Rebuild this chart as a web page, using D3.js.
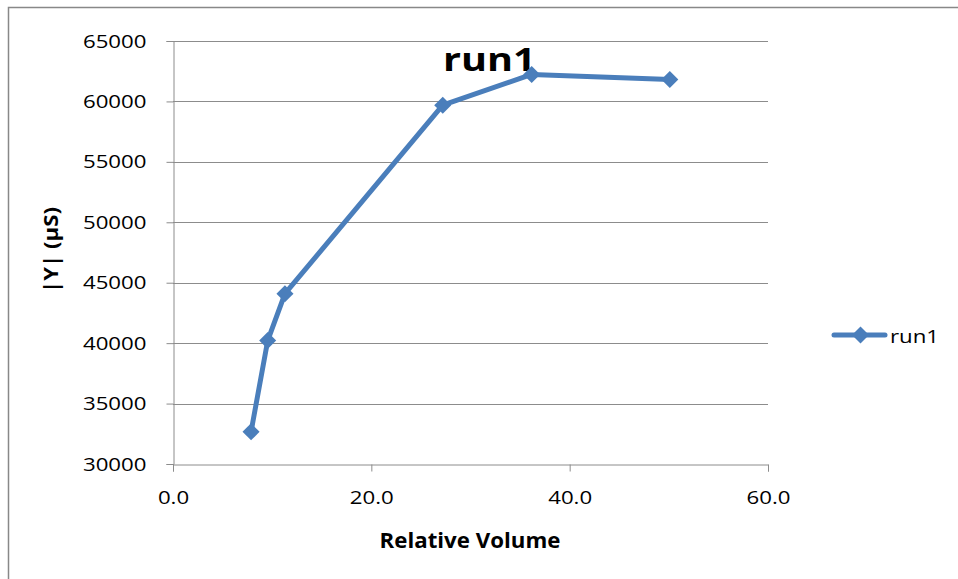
<!DOCTYPE html>
<html>
<head>
<meta charset="utf-8">
<script src="https://cdn.jsdelivr.net/npm/d3@7"></script>
<style>
  html, body { margin: 0; padding: 0; background: #fff; }
  svg { display: block; }
  text { font-family: "Open Sans", Lato, sans-serif; fill: #000; }
</style>
</head>
<body>
<svg id="chart" width="958" height="579"></svg>
<script>
// Relative volume vs. admittance magnitude, single run
const seriesName = "run1";
const relVolume = [7.87, 9.55, 11.29, 27.2, 36.17, 50.1];
const admittance = [32660, 40210, 44090, 59690, 62230, 61820];
const xTicks = [0, 20, 40, 60];
const yTicks = [30000, 35000, 40000, 45000, 50000, 55000, 60000, 65000];

const svg = d3.select("#chart");
const W = 958, H = 579;
const plot = { left: 173, right: 768, top: 41, bottom: 464 };
const blue = "#4a7ebb";
const grid = "#8c8c8c";

// widen a text selection horizontally while keeping its anchor
function widen(sel, k) {
  sel.each(function () {
    const w = this.getComputedTextLength();
    d3.select(this).attr("textLength", w * k).attr("lengthAdjust", "spacingAndGlyphs");
  });
}

// outer chart frame
svg.append("rect")
  .attr("x", 8.5).attr("y", 7.5)
  .attr("width", W + 10).attr("height", H + 10)
  .attr("fill", "#fff").attr("stroke", "#888").attr("stroke-width", 1.5);

const x = d3.scaleLinear().domain([0, 60]).range([plot.left, plot.right]);
const y = d3.scaleLinear().domain([30000, 65000]).range([plot.bottom, plot.top]);

// horizontal gridlines
svg.append("g").selectAll("line")
  .data(yTicks.slice(1))
  .join("line")
  .attr("x1", plot.left).attr("x2", plot.right)
  .attr("y1", d => Math.round(y(d)) + 0.5).attr("y2", d => Math.round(y(d)) + 0.5)
  .attr("stroke", grid).attr("stroke-width", 1);

// y axis
const yAxis = svg.append("g")
  .attr("transform", `translate(${plot.left + 0.5},0)`)
  .call(d3.axisLeft(y).tickValues(yTicks).tickFormat(d3.format("d")).tickSize(7).tickPadding(20));
yAxis.select(".domain").attr("stroke", grid);
yAxis.selectAll(".tick line").attr("stroke", grid);
yAxis.selectAll(".tick text")
  .attr("font-size", 19).attr("font-family", "'Open Sans', sans-serif").attr("fill", "#000")
  .call(widen, 1.17);

// x axis
const xAxis = svg.append("g")
  .attr("transform", `translate(0,${plot.bottom + 0.5})`)
  .call(d3.axisBottom(x).tickValues(xTicks).tickFormat(d3.format(".1f")).tickSize(7).tickPadding(19));
xAxis.select(".domain").attr("stroke", grid);
xAxis.selectAll(".tick line").attr("stroke", grid);
xAxis.selectAll(".tick text")
  .attr("font-size", 19).attr("font-family", "'Open Sans', sans-serif").attr("fill", "#000")
  .call(widen, 1.17);

// axis titles
svg.append("text")
  .attr("x", 470).attr("y", 548)
  .attr("text-anchor", "middle")
  .attr("font-size", 21).attr("font-weight", "bold")
  .text("Relative Volume")
  .call(widen, 1.06);

svg.append("text")
  .attr("transform", "translate(58,250) rotate(-90)")
  .attr("text-anchor", "middle")
  .attr("font-size", 20).attr("font-weight", "bold")
  .attr("textLength", 86).attr("lengthAdjust", "spacingAndGlyphs")
  .text("|Y| (µS)");

// chart title
svg.append("text")
  .attr("x", 443).attr("y", 71)
  .attr("font-size", 33).attr("font-weight", "bold")
  .text(seriesName)
  .call(widen, 1.2);

// series line
const pts = relVolume.map((v, i) => [v, admittance[i]]);
svg.append("path")
  .datum(pts)
  .attr("fill", "none")
  .attr("stroke", blue).attr("stroke-width", 5)
  .attr("stroke-linejoin", "round").attr("stroke-linecap", "round")
  .attr("d", d3.line().x(d => x(d[0])).y(d => y(d[1])));

// diamond markers
const diamond = d3.symbol().type(d3.symbolDiamond2).size(185);
svg.append("g").selectAll("path")
  .data(pts)
  .join("path")
  .attr("transform", d => `translate(${x(d[0])},${y(d[1])})`)
  .attr("d", diamond)
  .attr("fill", blue);

// legend
const lg = svg.append("g").attr("transform", "translate(834,335)");
lg.append("line").attr("x1", 0).attr("x2", 51).attr("y1", 0).attr("y2", 0)
  .attr("stroke", blue).attr("stroke-width", 5).attr("stroke-linecap", "round");
lg.append("path").attr("transform", "translate(26.5,0)").attr("d", diamond).attr("fill", blue);
lg.append("text").attr("x", 56).attr("y", 8).attr("font-size", 19).text(seriesName)
  .call(widen, 1.17);
</script>
</body>
</html>
